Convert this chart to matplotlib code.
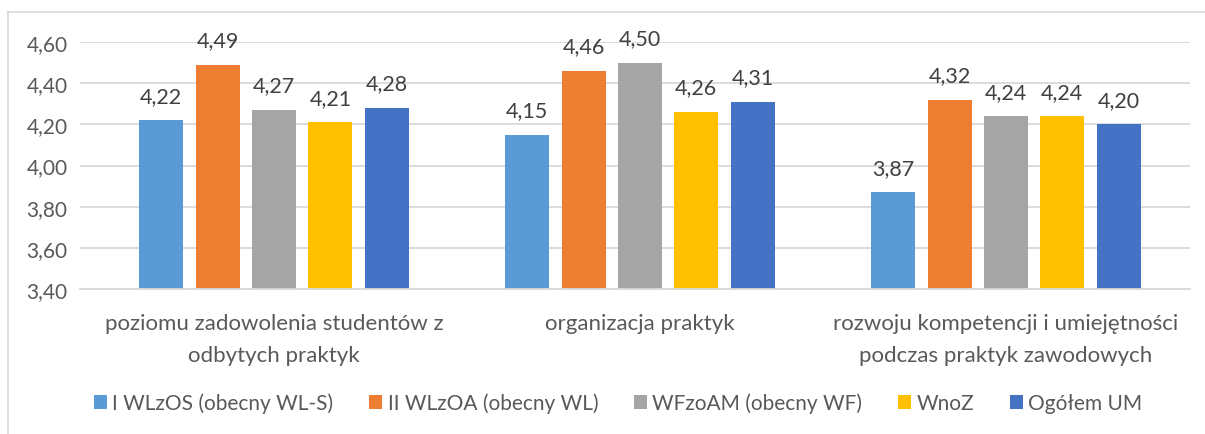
import numpy as np
import matplotlib.pyplot as plt
from matplotlib.lines import Line2D
from matplotlib.patches import Patch

categories = ['poziomu zadowolenia studentów z\nodbytych praktyk',
              'organizacja praktyk',
              'rozwoju kompetencji i umiejętności\npodczas praktyk zawodowych']
series_names = ['I WLzOS (obecny WL-S)', 'II WLzOA (obecny WL)',
                'WFzoAM (obecny WF)', 'WnoZ', 'Ogółem UM']
wlzos = [4.22, 4.15, 3.87]
wlzoa = [4.49, 4.46, 4.32]
wfzoam = [4.27, 4.50, 4.24]
wnoz = [4.21, 4.26, 4.24]
ogolem = [4.28, 4.31, 4.20]
yticks = [3.40, 3.60, 3.80, 4.00, 4.20, 4.40, 4.60]

colors = ['#5b9bd5', '#ed7d31', '#a5a5a5', '#ffc000', '#4472c4']
text_col = '#595959'

plt.rcParams['font.family'] = ['Lato', 'DejaVu Sans']

fig = plt.figure(figsize=(12.05, 4.35), dpi=100)
ax = fig.add_axes([80 / 1205, 1 - 290 / 435, 1110 / 1205, 247 / 435])

# outer chart border (only top/left visible in the crop)
fig.add_artist(Line2D([8 / 1205, 1], [1 - 13 / 435] * 2, color='#d9d9d9', lw=1.2))
fig.add_artist(Line2D([8 / 1205] * 2, [0, 1 - 13 / 435], color='#d9d9d9', lw=1.2))

x = np.arange(len(categories))
width = 0.120
step = 0.154
all_series = [wlzos, wlzoa, wfzoam, wnoz, ogolem]
for i, vals in enumerate(all_series):
    pos = x + (i - 2) * step
    bars = ax.bar(pos, np.array(vals) - 3.4, width, bottom=3.4, color=colors[i], zorder=2)
    for b, v in zip(bars, vals):
        ax.text(b.get_x() + b.get_width() / 2, v + 0.07, f'{v:.2f}'.replace('.', ','),
                ha='center', va='bottom', fontsize=15.5, color='#404040')

ax.set_xlim(-0.53, 2.503)
ax.set_ylim(3.4, 4.6)
ax.set_yticks(yticks)
ax.set_yticklabels([f'{t:.2f}'.replace('.', ',') for t in yticks])
ax.grid(axis='y', color='#d9d9d9', lw=1.3, zorder=0)
ax.set_xticks(x)
ax.set_xticklabels(categories, fontsize=16, color=text_col, linespacing=1.75)
ax.tick_params(axis='y', labelsize=15, colors=text_col, length=0, pad=9)
ax.tick_params(axis='x', length=0, pad=17)
for s in ['top', 'right', 'left']:
    ax.spines[s].set_visible(False)
ax.spines['bottom'].set_color('#d9d9d9')
ax.spines['bottom'].set_linewidth(1.3)

handles = [Patch(facecolor=c) for c in colors]
fig.legend(handles, series_names, loc='center', bbox_to_anchor=(618 / 1205, 1 - 404 / 435),
           ncol=5, frameon=False, fontsize=15, labelcolor=text_col,
           handlelength=0.65, handleheight=0.65, handletextpad=0.25, columnspacing=1.7)

fig.savefig('out.png', dpi=100, facecolor='white')
